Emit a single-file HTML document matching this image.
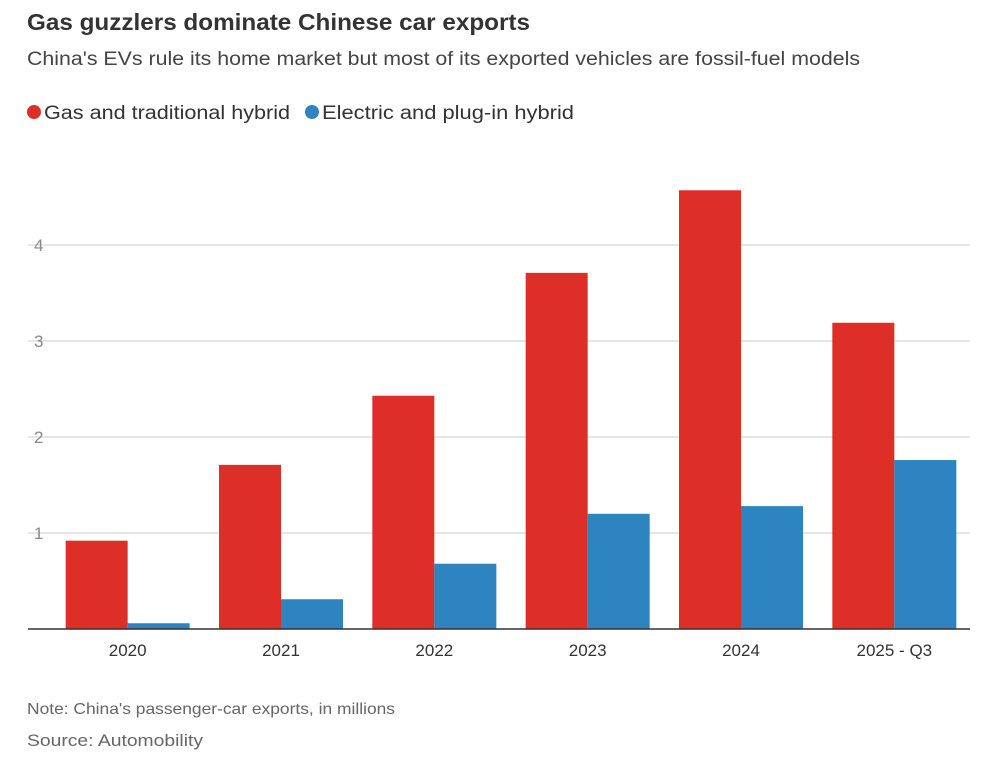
<!DOCTYPE html>
<html><head><meta charset="utf-8"><style>
body{margin:0;width:1000px;height:766px;background:#fff;font-family:"Liberation Sans",sans-serif;overflow:hidden}
svg{display:block}
</style></head><body>
<svg width="1000" height="766" id="c">
<text x="27" y="30" font-size="23" font-weight="bold" fill="#333" textLength="503" lengthAdjust="spacingAndGlyphs">Gas guzzlers dominate Chinese car exports</text>
<text x="27" y="65" font-size="19" fill="#444" textLength="833" lengthAdjust="spacingAndGlyphs">China's EVs rule its home market but most of its exported vehicles are fossil-fuel models</text>
<g>
<circle cx="34" cy="112" r="7" fill="#dd2e27"/>
<text x="44" y="119" font-size="19" fill="#333" textLength="246" lengthAdjust="spacingAndGlyphs">Gas and traditional hybrid</text>
<circle cx="312" cy="112" r="7" fill="#2e84c1"/>
<text x="322" y="119" font-size="19" fill="#333" textLength="252" lengthAdjust="spacingAndGlyphs">Electric and plug-in hybrid</text>
</g>
<g id="plot"></g>
<text x="27" y="714" font-size="16" fill="#666" textLength="368" lengthAdjust="spacingAndGlyphs">Note: China's passenger-car exports, in millions</text>
<text x="27" y="746" font-size="17" fill="#666" textLength="176" lengthAdjust="spacingAndGlyphs">Source: Automobility</text>
</svg>
<script>
const categories=["2020","2021","2022","2023","2024","2025 - Q3"];
const gasValues=[0.92,1.71,2.43,3.71,4.57,3.19];
const evValues=[0.06,0.31,0.68,1.20,1.28,1.76];
const yTicks=[1,2,3,4];
const NS="http://www.w3.org/2000/svg";
const g=document.getElementById('plot');
const y0=629,pxPerUnit=96,plotL=51,plotR=971,barW=62;
const y=v=>y0-v*pxPerUnit;
const step=(plotR-plotL)/categories.length;
function mk(t,a){const e=document.createElementNS(NS,t);for(const k in a)e.setAttribute(k,a[k]);g.appendChild(e);return e;}
yTicks.forEach(t=>{
 const l=mk('line',{x1:28,x2:970,y1:y(t),y2:y(t),stroke:'#ccc','stroke-width':1});
 
 
 const tx=mk('text',{x:34,y:y(t)+6,'font-size':17,fill:'#888'});tx.textContent=t;
 
 
});
categories.forEach((c,i)=>{
 const cx=plotL+step*i+step/2;
 const r=mk('rect',{x:cx-barW,y:y(gasValues[i]),width:barW,height:gasValues[i]*pxPerUnit,fill:'#dd2e27'});
 
 
 const b=mk('rect',{x:cx,y:y(evValues[i]),width:barW,height:evValues[i]*pxPerUnit,fill:'#2e84c1'});
 
 
 const t=mk('text',{x:cx,y:656,'font-size':17,fill:'#333','text-anchor':'middle'});t.textContent=c;
 
 
});
const ax=mk('line',{x1:28,x2:970,y1:y0,y2:y0,stroke:'#333','stroke-width':1.5});


</script>
</body></html>
